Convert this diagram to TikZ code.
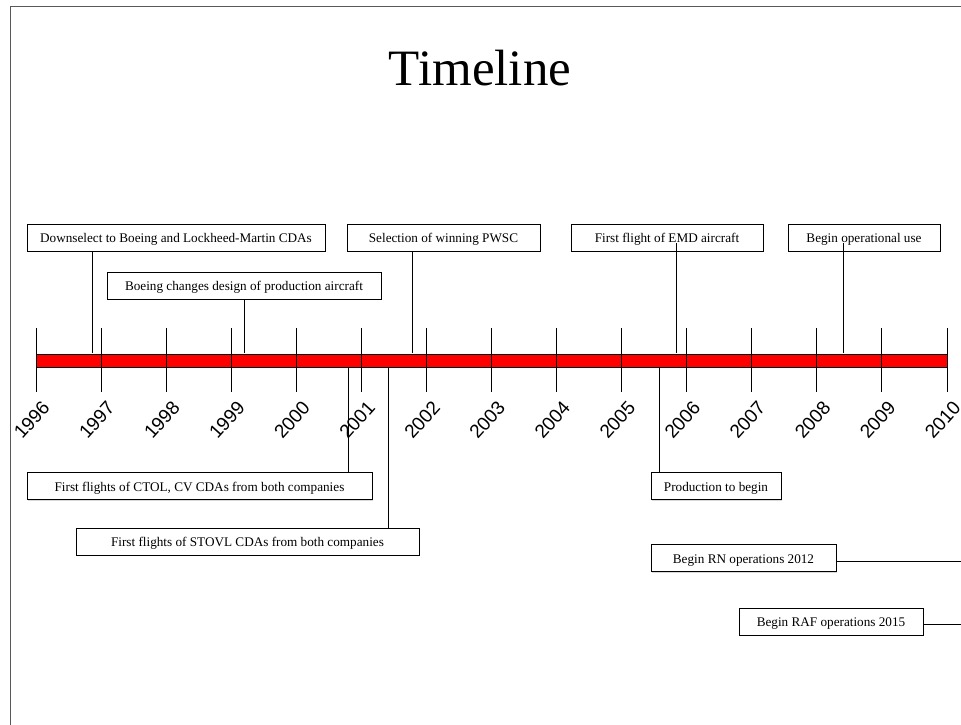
\documentclass[tikz,border=0pt]{standalone}
\usepackage{fontspec}
\setmainfont{Liberation Serif}
\setsansfont{Liberation Sans}
\usepackage{xcolor}
\usepackage{tikz}
\usetikzlibrary{shadows}

\begin{document}
\begin{tikzpicture}[x=1pt,y=-1pt,
  evbox/.style={draw,fill=white,inner sep=0pt,minimum height=27pt,
    text height=11pt,text depth=1pt,
    font=\fontsize{13.2}{15}\selectfont,
    drop shadow={shadow xshift=1.3pt,shadow yshift=-1.3pt,fill=gray!60}},
  yearlbl/.style={rotate=48,anchor=east,inner sep=0pt,
    font=\sffamily\fontsize{19}{21}\selectfont}]
  \useasboundingbox (0,0) rectangle (961,725);
  % frame and title
  \draw[gray!70!black,line width=1pt] (10,725) -- (10,7) -- (961,7);
  \node[font=\fontsize{51}{56}\selectfont] (title) at (480,68) {Timeline};
  % the bar with the years
  \draw[fill=red,line width=1pt] (36,354) rectangle (947,367);
  \foreach \yr [count=\i from 0] in {1996,...,2010} {
    \coordinate (t\yr) at ({36+\i*65.07},328);
    \draw[line width=0.9pt] (t\yr) -- ++(0,64);
    \node[yearlbl] (y\yr) at ({46+\i*65.07},404) {\yr};
  }
  % events above the bar
  \coordinate (dsel) at (92,353);
  \coordinate (boe) at (244,353);
  \coordinate (pwsc) at (412,353);
  \coordinate (emd) at (676,353);
  \coordinate (ops) at (843,353);
  \node[evbox,minimum width=298pt] (dselbox) at (176,237.5) {Downselect to Boeing and Lockheed-Martin CDAs};
  \node[evbox,minimum width=193pt] (pwscbox) at (443.5,237.5) {Selection of winning PWSC};
  \node[evbox,minimum width=192pt] (emdbox) at (667,237.5) {First flight of EMD aircraft};
  \node[evbox,minimum width=152pt] (opsbox) at (864,237.5) {Begin operational use};
  \node[evbox,minimum width=274pt] (boebox) at (244,285.5) {Boeing changes design of production aircraft};
  \draw (dselbox.south -| dsel) -- (dsel);
  \draw (boebox.south -| boe) -- (boe);
  \draw (pwscbox.south -| pwsc) -- (pwsc);
  \draw (emd |- 0,243) -- (emd);
  \draw (ops |- 0,243) -- (ops);
  % events below the bar
  \coordinate (ctol) at (348,368);
  \coordinate (stovl) at (388,368);
  \coordinate (prod) at (659,368);
  \coordinate (rn) at (961,561);
  \coordinate (raf) at (961,624);
  \node[evbox,minimum width=345pt] (ctolbox) at (199.5,486) {First flights of CTOL, CV CDAs from both companies};
  \node[evbox,minimum width=343pt] (stovlbox) at (247.5,541.5) {First flights of STOVL CDAs from both companies};
  \node[evbox,minimum width=130pt] (prodbox) at (716,486) {Production to begin};
  \node[evbox,minimum width=185pt] (rnbox) at (743.5,558) {Begin RN operations 2012};
  \node[evbox,minimum width=184pt] (rafbox) at (831,621.5) {Begin RAF operations 2015};
  \draw (ctol) -- (ctolbox.north -| ctol);
  \draw (stovl) -- (stovlbox.north -| stovl);
  \draw (prod) -- (prodbox.north -| prod);
  \draw (rnbox.east |- rn) -- (rn);
  \draw (rafbox.east |- raf) -- (raf);
\end{tikzpicture}
\end{document}
